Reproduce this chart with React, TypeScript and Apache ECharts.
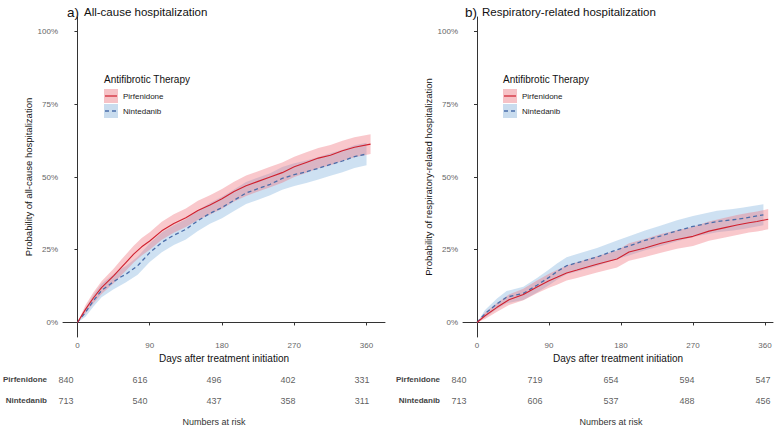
import React, { useEffect, useRef } from "react";
import * as echarts from "echarts";

// [day, estimate %, lower CI %, upper CI %]
const allCausePirfenidone = [
  [0, 0, 0, 0], [10, 4.5, 3.1, 5.9], [20, 8.5, 6.6, 10.4], [30, 12, 9.8, 14.2],
  [45, 16, 13.5, 18.5], [55, 19, 16.3, 21.7], [60, 20.5, 17.7, 23.3], [70, 23.5, 20.6, 26.4],
  [80, 26, 23, 29], [90, 28, 25, 31], [105, 31.5, 28.4, 34.6], [120, 34, 30.8, 37.2],
  [135, 36, 32.8, 39.2], [150, 38.5, 35.2, 41.8], [165, 40.4, 37.1, 43.7], [180, 42.5, 39.1, 45.9],
  [195, 45, 41.6, 48.4], [210, 47, 43.5, 50.5], [225, 48.5, 45, 52], [240, 50, 46.5, 53.5],
  [255, 51.5, 48, 55], [270, 53.5, 50, 57], [285, 55, 51.5, 58.5], [300, 56.5, 53, 60],
  [315, 57.5, 54, 61], [330, 59, 55.5, 62.5], [345, 60.2, 56.8, 63.7], [365, 61.3, 57.9, 64.7],
];
const allCauseNintedanib = [
  [0, 0, 0, 0], [10, 3.5, 2, 5], [20, 7.5, 5.5, 9.5], [30, 11, 8.7, 13.3],
  [45, 14, 11.4, 16.6], [55, 15.8, 13, 18.6], [60, 16.5, 13.7, 19.3], [75, 19.5, 16.4, 22.6],
  [90, 24, 20.8, 27.2], [105, 27.5, 24.1, 30.9], [120, 30, 26.6, 33.4], [135, 32, 28.5, 35.5],
  [150, 35, 31.4, 38.6], [165, 37.5, 33.9, 41.1], [180, 39.5, 35.8, 43.2], [195, 42, 38.3, 45.7],
  [210, 44.5, 40.7, 48.3], [225, 46, 42.2, 49.8], [240, 47.5, 43.7, 51.3], [255, 49.5, 45.6, 53.4],
  [270, 50.8, 46.9, 54.7], [285, 51.8, 47.9, 55.7], [300, 53, 49.1, 56.9], [315, 54.3, 50.4, 58.2],
  [330, 55.5, 51.6, 59.4], [345, 57, 53.1, 60.9], [360, 57.9, 54, 61.8],
];
const respPirfenidone = [
  [0, 0, 0, 0], [10, 2.3, 1.2, 3.4], [25, 5.2, 3.7, 6.7], [40, 7.8, 6, 9.6],
  [58, 9.6, 7.6, 11.6], [75, 12.2, 10, 14.4], [90, 14.3, 11.9, 16.7], [100, 15.5, 13, 18],
  [112, 17, 14.4, 19.6], [125, 18, 15.3, 20.7], [150, 20, 17.2, 22.8], [175, 21.8, 18.9, 24.7],
  [190, 24.2, 21.2, 27.2], [210, 25.6, 22.5, 28.7], [230, 27.2, 24, 30.4], [250, 28.5, 25.3, 31.7],
  [270, 29.6, 26.3, 32.9], [290, 31.4, 28.1, 34.7], [310, 32.6, 29.2, 36], [325, 33.5, 30.1, 36.9],
  [340, 34.3, 30.9, 37.7], [350, 34.7, 31.3, 38.1], [364, 35.5, 32, 39],
];
const respNintedanib = [
  [0, 0, 0, 0], [10, 3, 1.7, 4.3], [25, 6.4, 4.6, 8.2], [37, 8.7, 6.6, 10.8],
  [58, 10, 7.7, 12.3], [75, 12.8, 10.3, 15.3], [90, 15.5, 12.8, 18.2], [100, 17.5, 14.7, 20.3],
  [112, 19.5, 16.6, 22.4], [125, 20.5, 17.5, 23.5], [150, 22.5, 19.4, 25.6], [175, 25, 21.8, 28.2],
  [190, 26.3, 23, 29.6], [210, 28.2, 24.8, 31.6], [230, 29.8, 26.3, 33.3], [250, 31.5, 27.9, 35.1],
  [270, 33, 29.4, 36.6], [300, 34.7, 31, 38.4], [320, 35.3, 31.6, 39], [333, 35.8, 32.1, 39.5],
  [358, 37, 33.4, 40.6],
];

const xTicks = [0, 90, 180, 270, 360];
const yTicks = [0, 25, 50, 75, 100];
const riskTimes = [0, 90, 180, 270, 360];
const groups = ["Pirfenidone", "Nintedanib"];
const riskAllPirf = [840, 616, 496, 402, 331];
const riskAllNint = [713, 540, 437, 358, 311];
const riskRespPirf = [840, 719, 654, 594, 547];
const riskRespNint = [713, 606, 537, 488, 456];

const FONT = "'Liberation Sans', Arial, sans-serif";
const RED = "#D0202E";
const BLUE = "#4A6DAA";
const RED_BAND = "rgba(240, 110, 120, 0.38)";
const BLUE_BAND = "rgba(125, 175, 220, 0.38)";
const AXIS = "#333333";

function bandSeries(data: number[][], color: string, axis: number) {
  return {
    type: "custom",
    xAxisIndex: axis,
    yAxisIndex: axis,
    silent: true,
    z: 1,
    data: data.map((d) => [d[0], d[2], d[3]]),
    encode: { x: 0, y: [1, 2] },
    renderItem: (params: any, api: any) => {
      if (params.dataIndex !== 0) return null;
      const upper = data.map((d) => api.coord([d[0], d[3]]));
      const lower = data.map((d) => api.coord([d[0], d[2]])).reverse();
      return {
        type: "polygon",
        shape: { points: upper.concat(lower) },
        style: { fill: color },
      };
    },
  };
}

function lineSeries(data: number[][], color: string, axis: number, dashed: boolean) {
  return {
    type: "line",
    xAxisIndex: axis,
    yAxisIndex: axis,
    data: data.map((d) => [d[0], d[1]]),
    showSymbol: false,
    symbol: "none",
    silent: true,
    z: 3,
    lineStyle: { color, width: dashed ? 1.3 : 1.1, type: dashed ? [4, 3] : "solid" },
  };
}

function riskSeries(values: number[], group: string, axis: number) {
  return {
    type: "scatter",
    xAxisIndex: axis,
    yAxisIndex: axis,
    symbolSize: 1,
    itemStyle: { color: "rgba(0,0,0,0)" },
    silent: true,
    data: riskTimes.map((t, i) => [t, group, values[i]]),
    label: {
      show: true,
      position: "inside",
      formatter: (p: any) => String(p.value[2]),
      color: "#333",
      fontSize: 9,
      fontFamily: FONT,
    },
  };
}

function mainX(grid: number, min: number, max: number) {
  return {
    type: "value",
    gridIndex: grid,
    min,
    max,
    name: "Days after treatment initiation",
    nameLocation: "middle",
    nameGap: 13,
    nameTextStyle: { color: "#111", fontSize: 10, fontFamily: FONT },
    axisLine: { show: true, lineStyle: { color: AXIS, width: 1 } },
    axisTick: { show: true, length: 3, lineStyle: { color: AXIS }, customValues: xTicks },
    axisLabel: { color: "#666", fontSize: 8, fontFamily: FONT, margin: 4, customValues: xTicks },
    splitLine: { show: false },
  };
}

function mainY(grid: number, name: string) {
  return {
    type: "value",
    gridIndex: grid,
    min: -5,
    max: 105,
    name,
    nameLocation: "middle",
    nameGap: 20,
    nameTextStyle: { color: "#111", fontSize: 9.5, fontFamily: FONT },
    axisLine: { show: true, lineStyle: { color: AXIS, width: 1 } },
    axisTick: { show: true, length: 3, lineStyle: { color: AXIS }, customValues: yTicks },
    axisLabel: {
      color: "#666",
      fontSize: 8,
      fontFamily: FONT,
      margin: 5,
      customValues: yTicks,
      formatter: (v: number) => v + "%",
    },
    splitLine: { show: false },
  };
}

function riskX(grid: number) {
  return {
    type: "value",
    gridIndex: grid,
    min: 0,
    max: 360,
    name: "Numbers at risk",
    nameLocation: "middle",
    nameGap: 6,
    nameTextStyle: { color: "#333", fontSize: 9, fontFamily: FONT },
    axisLine: { show: false },
    axisTick: { show: false },
    axisLabel: { show: false },
    splitLine: { show: false },
  };
}

function riskY(grid: number) {
  return {
    type: "category",
    gridIndex: grid,
    data: groups,
    inverse: true,
    axisLine: { show: false },
    axisTick: { show: false },
    axisLabel: { color: "#444", fontSize: 8, fontWeight: "bold", fontFamily: FONT, margin: 19 },
    splitLine: { show: false },
  };
}

function legendGraphics(x0: number) {
  return [
    { type: "text", left: x0, top: 74, style: { text: "Antifibrotic Therapy", fontSize: 10, fontFamily: FONT, fill: "#111" } },
    { type: "rect", shape: { x: x0, y: 89, width: 14, height: 14 }, style: { fill: "#F6C2C6" } },
    { type: "line", shape: { x1: x0 + 1, y1: 96, x2: x0 + 13, y2: 96 }, style: { stroke: RED, lineWidth: 1.2 } },
    { type: "rect", shape: { x: x0, y: 104, width: 14, height: 14 }, style: { fill: "#C9DCEE" } },
    { type: "line", shape: { x1: x0 + 1, y1: 111, x2: x0 + 13, y2: 111 }, style: { stroke: BLUE, lineWidth: 1.3, lineDash: [4, 3] } },
    { type: "text", left: x0 + 19, top: 92, style: { text: "Pirfenidone", fontSize: 8, fontFamily: FONT, fill: "#222" } },
    { type: "text", left: x0 + 19, top: 107, style: { text: "Nintedanib", fontSize: 8, fontFamily: FONT, fill: "#222" } },
  ];
}

const titleRich = {
  a: { fontSize: 13.5, fontFamily: FONT, color: "#111", fontWeight: "normal" },
  t: { fontSize: 11.5, fontFamily: FONT, color: "#111", fontWeight: "normal" },
};

export default function App() {
  const ref = useRef<HTMLDivElement>(null);
  useEffect(() => {
    if (!ref.current) return;
    const chart = echarts.init(ref.current, undefined, { renderer: "svg" });
    chart.setOption({
      animation: false,
      backgroundColor: "#ffffff",
      title: [
        {
          left: 62,
          top: -2,
          text: "{a|a)} {t|All-cause hospitalization}",
          textStyle: { fontWeight: "normal", rich: titleRich },
        },
        {
          left: 460,
          top: -2,
          text: "{a|b)} {t|Respiratory-related hospitalization}",
          textStyle: { fontWeight: "normal", rich: titleRich },
        },
      ],
      grid: [
        { left: 63, top: 17, width: 322, height: 320 },
        { left: 463, top: 17, width: 310, height: 320 },
        { left: 61, top: 369, width: 301, height: 44 },
        { left: 459, top: 369, width: 304, height: 44 },
      ],
      xAxis: [mainX(0, -18, 383), mainX(1, -17.5, 370), riskX(2), riskX(3)],
      yAxis: [
        mainY(0, "Probability of all-cause hospitalization"),
        mainY(1, "Probability of respiratory-related hospitalization"),
        riskY(2),
        riskY(3),
      ],
      graphic: [...legendGraphics(104), ...legendGraphics(503)],
      series: [
        bandSeries(allCauseNintedanib, BLUE_BAND, 0),
        bandSeries(allCausePirfenidone, RED_BAND, 0),
        lineSeries(allCauseNintedanib, BLUE, 0, true),
        lineSeries(allCausePirfenidone, RED, 0, false),
        bandSeries(respNintedanib, BLUE_BAND, 1),
        bandSeries(respPirfenidone, RED_BAND, 1),
        lineSeries(respNintedanib, BLUE, 1, true),
        lineSeries(respPirfenidone, RED, 1, false),
        riskSeries(riskAllPirf, "Pirfenidone", 2),
        riskSeries(riskAllNint, "Nintedanib", 2),
        riskSeries(riskRespPirf, "Pirfenidone", 3),
        riskSeries(riskRespNint, "Nintedanib", 3),
      ],
    });
    return () => chart.dispose();
  }, []);
  return <div ref={ref} style={{ position: "fixed", left: 0, top: 0, width: 783, height: 427 }} />;
}
